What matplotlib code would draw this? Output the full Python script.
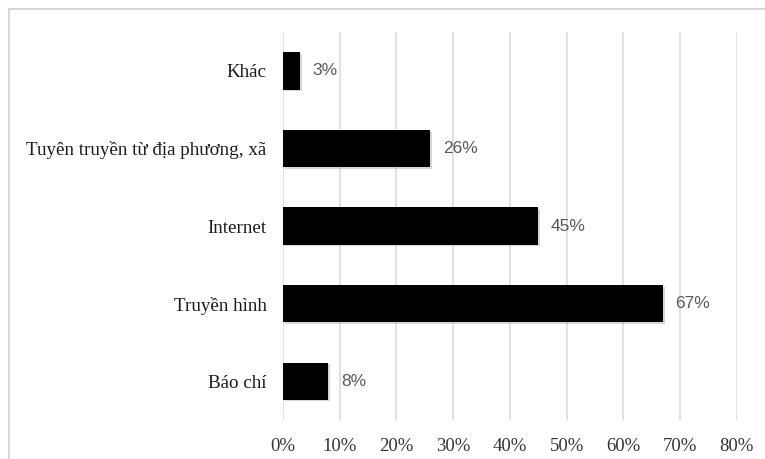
import matplotlib.pyplot as plt
import matplotlib.patheffects as pe
from matplotlib.patches import Rectangle

# survey: where people get their information
categories = ["Báo chí", "Truyền hình", "Internet", "Tuyên truyền từ địa phương, xã", "Khác"]
shares = [8, 67, 45, 26, 3]
xticks = [0, 10, 20, 30, 40, 50, 60, 70, 80]
xtick_labels = ["%d%%" % t for t in xticks]

fig = plt.figure(figsize=(7.65, 4.59), dpi=100)
ax = fig.add_axes([0.370, 0.085, 0.593, 0.845])

# light frame around the chart area (runs off the right and bottom edges)
fig.patches.append(Rectangle((9 / 765, -0.1), 1.0, 1.1 - 9 / 459,
                             transform=fig.transFigure, fill=False,
                             edgecolor="#d0d0d0", linewidth=1.2))

y = range(len(categories))
bars = ax.barh(y, shares, height=0.48, color="black", zorder=3)
for b in bars:
    b.set_path_effects([pe.SimplePatchShadow(offset=(1.2, -1.2), shadow_rgbFace="#999999", alpha=0.4),
                        pe.Normal()])

for yi, v in zip(y, shares):
    ax.annotate("%d%%" % v, (v, yi), xytext=(9, 0), textcoords="offset points",
                va="center", ha="left", fontsize=12.5, color="#595959",
                family="Liberation Sans")

ax.set_xlim(0, 80)
ax.set_ylim(-0.5, len(categories) - 0.5)
ax.set_xticks(xticks)
ax.set_xticklabels(xtick_labels, family="Liberation Serif", fontsize=13.5, color="#333333")
ax.set_yticks(list(y))
ax.set_yticklabels(categories, family="Liberation Serif", fontsize=13.7, color="#1a1a1a")
ax.tick_params(axis="both", length=0)
ax.tick_params(axis="x", pad=13)
ax.tick_params(axis="y", pad=12)

ax.grid(axis="x", color="#d9d9d9", linewidth=1.1, zorder=0)
for s in ax.spines.values():
    s.set_visible(False)

fig.savefig("out.png", dpi=100)
plt.close(fig)
